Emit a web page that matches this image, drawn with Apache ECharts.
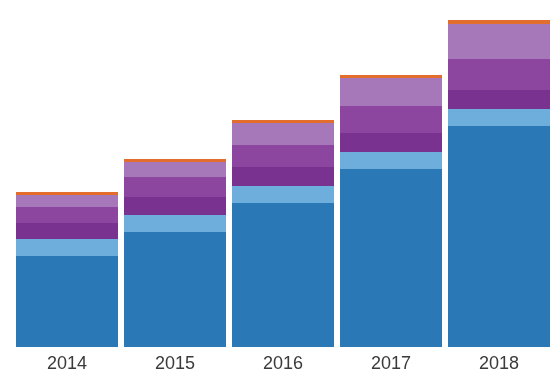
<!DOCTYPE html>
<html>
<head>
<meta charset="utf-8">
<script src="https://cdn.jsdelivr.net/npm/echarts@6/dist/echarts.min.js"></script>
<style>
  html, body { margin: 0; padding: 0; background: #fff; }
  #main { width: 553px; height: 374px; }
</style>
</head>
<body>
<div id="main"></div>
<script>
(function () {
    'use strict';

    // 数据
    var years = ['2014', '2015', '2016', '2017', '2018'];
    var darkBlue = [91, 115, 144, 178, 221];
    var lightBlue = [17, 17, 17, 17, 17];
    var darkPurple = [16, 18, 19, 19, 19];
    var midPurple = [16, 20, 22, 27, 31];
    var lightPurple = [12, 15, 22, 28, 35];
    var orange = [3, 3, 3, 3, 4];

    var myChart = echarts.init(document.getElementById('main'));

    function seg(name, data, color) {
        return {
            name: name,
            type: 'bar',
            stack: 'total',
            barWidth: 102,
            itemStyle: { color: color },
            data: data
        };
    }

    var option = {
        animation: false,
        grid: { left: 13, right: 0, top: 0, bottom: 27 },
        xAxis: {
            type: 'category',
            data: years,
            axisLine: { show: false },
            axisTick: { show: false },
            axisLabel: {
                margin: 8,
                fontSize: 18,
                color: '#3a3a3a',
                fontFamily: 'Liberation Sans, Arial, sans-serif'
            }
        },
        yAxis: {
            type: 'value',
            min: 0,
            max: 347,
            show: false,
            splitLine: { show: false }
        },
        series: [
            seg('a', darkBlue, '#2a78b6'),
            seg('b', lightBlue, '#6eaedc'),
            seg('c', darkPurple, '#7a3290'),
            seg('d', midPurple, '#8c469f'),
            seg('e', lightPurple, '#a677b9'),
            seg('f', orange, '#e36d2d')
        ]
    };

    myChart.setOption(option);
}());
</script>
</body>
</html>
